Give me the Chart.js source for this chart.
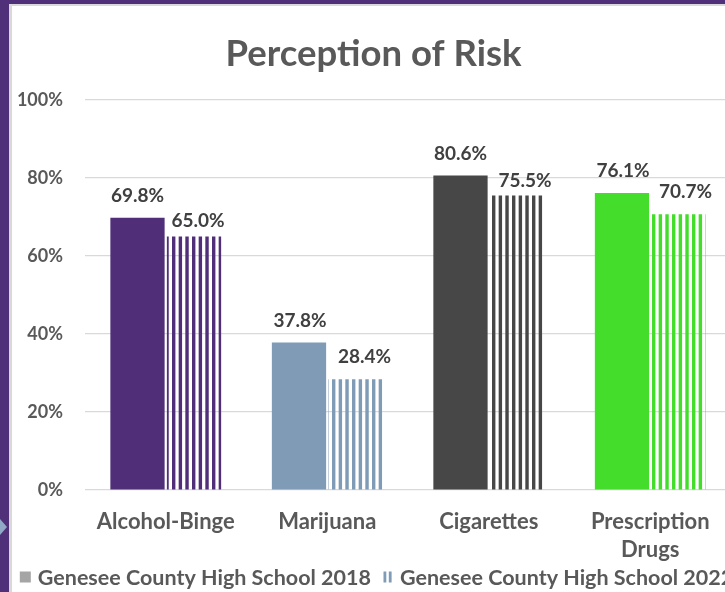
<!DOCTYPE html>
<html>
<head>
<meta charset="utf-8">
<script src="https://cdn.jsdelivr.net/npm/chart.js@4.4.1/dist/chart.umd.min.js"></script>
<style>
  html, body { margin: 0; padding: 0; width: 725px; height: 592px; overflow: hidden; background: #51307A; }
  #frame { position: absolute; left: 9px; top: 4px; width: 740px; height: 600px; background: #ffffff;
           border-left: 3px solid #D9D9D9; border-top: 2px solid #D9D9D9; }
  #wrap { position: absolute; left: 0; top: 0; width: 725px; height: 586px; }
  #tri { position: absolute; left: 0; top: 519px; width: 0; height: 0;
         border-top: 8px solid transparent; border-bottom: 8px solid transparent; border-left: 7px solid #8FA9C6; }
</style>
</head>
<body>
<div id="frame"><div id="wrap"><canvas id="c" width="725" height="586"></canvas></div></div>
<div id="tri"></div>
<script>
const categories = ["Alcohol-Binge", "Marijuana", "Cigarettes", ["Prescription", "Drugs"]];
const series2018 = [69.8, 37.8, 80.6, 76.1];
const series2022 = [65.0, 28.4, 75.5, 70.7];
const seriesNames = ["Genesee County High School 2018", "Genesee County High School 2022"];
const yTicks = [0, 20, 40, 60, 80, 100];
const barColors = ["#512F78", "#7F9BB5", "#474747", "#44DD2C"];
const legendColors = ["#A5A5A5", "#7F9BB5"];

function stripes(color) {
  const t = document.createElement('canvas');
  t.width = 20; t.height = 20;
  const g = t.getContext('2d');
  g.fillStyle = color;
  g.fillRect(0, 0, 3.4, 20);
  g.fillRect(6.67, 0, 3.4, 20);
  g.fillRect(13.33, 0, 3.4, 20);
  return g.createPattern(t, 'repeat');
}

const FONT = "Lato, 'Open Sans', sans-serif";
const TXT = "#595959";
const labelGap = [[16, 16, 16, 16], [9, 16, 8, 16]];
const labelDx = [[0, 1, 0, 1], [4, 9, 8, 7]];

const dataLabels = {
  id: 'dataLabels',
  afterDatasetsDraw(chart) {
    const ctx = chart.ctx;
    ctx.save();
    ctx.font = "bold 19px " + FONT;
    ctx.fillStyle = "#404040";
    ctx.textAlign = 'center';
    ctx.textBaseline = 'alphabetic';
    chart.data.datasets.forEach((ds, di) => {
      chart.getDatasetMeta(di).data.forEach((bar, i) => {
        ctx.fillText(ds.data[i].toFixed(1) + '%', bar.x + labelDx[di][i], bar.y - labelGap[di][i]);
      });
    });
    ctx.restore();
  }
};

const bottomLegend = {
  id: 'bottomLegend',
  afterDraw(chart) {
    const ctx = chart.ctx;
    ctx.save();
    ctx.font = "bold 21.5px " + FONT;
    ctx.textBaseline = 'middle';
    ctx.textAlign = 'left';
    const box = 11, boxGap = 7, itemGap = 11;
    const names = chart.data.datasets.map(d => d.label);
    const widths = names.map(n => ctx.measureText(n).width);
    const total = widths.reduce((a, w) => a + box + boxGap + w, 0) + itemGap * (names.length - 1);
    let x = chart.width / 2 - total / 2 + 2;
    const cy = 571;
    names.forEach((n, i) => {
      ctx.fillStyle = legendColors[i];
      if (i === 0) {
        ctx.fillRect(x, cy - 5.5, box, box);
      } else {
        ctx.fillRect(x + 1.5, cy - 5.5, 2.8, box);
        ctx.fillRect(x + 6.8, cy - 5.5, 2.8, box);
      }
      x += box + boxGap;
      ctx.fillStyle = TXT;
      ctx.fillText(n, x, cy + 1);
      x += widths[i] + itemGap;
    });
    ctx.restore();
  }
};

new Chart(document.getElementById('c'), {
  type: 'bar',
  data: {
    labels: categories,
    datasets: [
      { label: seriesNames[0], data: series2018, backgroundColor: barColors, borderWidth: 0,
        categoryPercentage: 0.7, barPercentage: 0.96 },
      { label: seriesNames[1], data: series2022, backgroundColor: barColors.map(stripes), borderWidth: 0,
        categoryPercentage: 0.7, barPercentage: 0.96 }
    ]
  },
  options: {
    responsive: false,
    animation: false,
    events: [],
    layout: { padding: { left: 4, right: 6, top: 0, bottom: 10 } },
    plugins: {
      title: { display: true, text: "Perception of Risk", color: TXT,
               font: { family: FONT, size: 36.5, weight: 'bold', lineHeight: 1.2 }, padding: { top: 26, bottom: 24 } },
      legend: { display: false },
      tooltip: { enabled: false }
    },
    scales: {
      x: {
        grid: { display: false, drawTicks: false },
        border: { display: false },
        ticks: { color: TXT, font: { family: FONT, size: 22, weight: 'bold', lineHeight: 1.27 }, padding: 18, maxRotation: 0, autoSkip: false }
      },
      y: {
        min: 0, max: 100,
        afterBuildTicks(axis) { axis.ticks = yTicks.map(v => ({ value: v })); },
        grid: { color: "#D9D9D9", lineWidth: 1.3, drawTicks: false },
        border: { display: false },
        ticks: { color: TXT, font: { family: FONT, size: 18, weight: 'bold' }, padding: 22, callback: v => v + '%' },
        afterFit(axis) { axis.width = 69; }
      }
    }
  },
  plugins: [dataLabels, bottomLegend]
});
</script>
</body>
</html>
